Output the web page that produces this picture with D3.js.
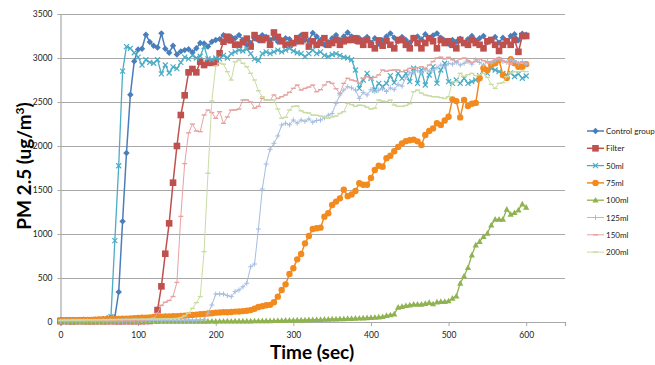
<!DOCTYPE html>
<html>
<head>
<meta charset="utf-8">
<script src="https://cdn.jsdelivr.net/npm/d3@7"></script>
<style>
  body { margin: 0; background: #fff; }
  text { font-family: Lato, "Open Sans", sans-serif; }
</style>
</head>
<body>
<svg id="chart" width="655" height="365"></svg>
<script>
// sampling times (sec)
const times = d3.range(0, 605, 5);

const seriesNames = ["Control group", "Filter", "50ml", "75ml", "100ml", "125ml", "150ml", "200ml"];

const controlGroup = [22,20,22,24,21,23,25,22,24,26, 28,35,42,48,52,341,1144,1920,2583,2962,
  3097,3105,3265,3182,3140,3120,3280,3105,3060,3140, 3040,3075,3090,3100,3065,3110,3170,3165,3130,3185, 3205,
  3215,3260,3200,3240,3225,3260,3205,3150,3170,3225, 3200,3260,3240,3205,3225,3185,3205,3225,3215,3165,
  3185,3260,3205,3200,3285,3245,3205,3150,3180,3225, 3260,3205,3245,3290,3245,3190,3225,3205,3240,3175,
  3225,3160,3200,3245,3280,3230,3190,3240,3205,3175, 3230,3245,3210,3270,3225,3255,3280,3230,3200,3160,
  3205,3185,3220,3170,3215,3250,3200,3225,3250,3180, 3205,3240,3175,3230,3190,3250,3270,3200,3275,3265];

const filter = [10,11,10,9,10,11,10,10,9,10, 11,10,10,11,10,9,10,11,10,10, 11,10,12,12, 30,
  136,405,776,1121,1583,2000,2352,2576,2837,2875,2837,2958,2920,2945,2945,2950,3053,3185,3242,
  3200,3150,3150,3180,3220,3130,3260,3225,3205,3225, 3150,3290,3240,3190,3150,3150,3170,3225,3190,3260,
  3130,3190,3150,3170,3225,3150,3170,3205,3150,3190, 3205,3205,3225,3190,3150,3205,3150,3110,3200,3140,
  3195,3150,3110,3205,3205,3150,3110,3225,3170,3110, 3170,3225,3190,3110,3205,3170,3190,3150,3110,3205,
  3170,3150,3205,3170,3150,3110,3190,3205,3150,3080, 3150,3190,3150,3205,3070,3250,3250];

const ml50 = [25,24,26,25,24,26,27,25,26,28,27,29,30, 60,
  924,1776,2850,3130,3110,3060,3010,2920,2980,2950, 2940,2980,2820,2920,2830,2900,2880,2950,3010,2990,
  3030,3000,3020,3130,2990,2980,3000,2990,3030,
  3000,3050,3070,3090,3080,3100,3050,2990,2970,3050, 3070,3050,3070,3090,3070,3090,3110,3080,3060,3050,
  3015,3050,3090,3050,3070,3030,3015,3040,3050,3030, 3010,3000,2980,2864,2655,2750,2826,2769,2636,2712,
  2674,2712,2800,2720,
  2826,2769,2826,2731,2883,2712,2864,2693,2807,2902, 2712,2864,2940,2731,2712,2750,2712,2769,2712,2731,
  2750,2800,2864,2826,2883,2864,2845,2826,2807,2830, 2790,2820,2770,2795];

const ml75 = [18,18,20,19,21,20,22,22,24,25, 28,30,32,34,35,36,38,38,40,42,
  45,48,50,52,56,58,60,62,64,66, 66,68,72,76,80,84,88,92,96,100,
  106,108,112,110,114,118,120,124,128,135, 150,170,180,190,195,224,288,364,428,545,
  610,712,773,894,977,1057,1065,1072,1197,1235, 1330,1368,1405,1503,1430,1450,1489,1576,1560,1560,
  1636,1727,1776,1765,1860,1890,1940,1990,2030,2055, 2066,2072,2053,2011,2125,2170,2200,2258,2240,2290,
  2333,2530,2510,2325,2522,2455,2480,2490,2770,2883, 2860,2920,2940,2977,2807,2773,2985,2940,2900,2900, 2930];

const ml100 = [3,4,3,2,3,4,3,3,4,3, 4,3,4,5,4,4,5,4,5,5,
  5,6,5,6,6,5,6,7,6,7, 7,6,7,8,7,8,8,7,8,9,
  8,9,9,10,9,10,10,11,10,11, 12,12,13,14,14,15,16,17,18,19,
  20,21,22,23,24,26,27,28,30,31, 33,34,35,36,38,40,42,43,45,47,
  50,52,55,60,72,80,91,167,175,185, 193,200,200,200,210,220,205,227,231,231,
  239,269,295,440,523,617,761,875,913,970, 1008,1102,1167,1167,1167,1280,1224,1242,1273,1340, 1303];

const ml125 = [10,12,11,13,12,10,12,14,13,12, 14,13,12,15,14,13,15,16,14,15,
  16,15,17,16,18,17,16,18,19,18, 20,19,21,22,20,23, 25,
  30,99,193,318,318,318,300,288,345,364,400,440,
  628,659,1057,1511,1795,1962,2030,2114,2239,2258, 2240,2295,2260,2295,2280,2307,2270,2290,2295,2320,
  2350,2370,2485,2580,2636,2674,2660,2636,2542,2610, 2580,2640,2620,2636,2650,2620,2660,2640,2700,2680,
  2780,2830,2840,2860,2830,2870,2850,2860,2890,2920, 2900,2940,2930,2950,2920,2940,2960,2930,2980,2950,
  2920,2960,2940,2970,2990,2960,2950,2980,2970,2940, 2960,2930];

const ml150 = [15,14,16,15,17,16,15,17,18,16, 18,17,19,18,20,19,21,20,22,21, 23,24,26,30,
  45,100,190,225,245,290,450,1200,1800,2150, 2250,2170,2163,2352,2409,2380,2315,2390,2258,2330,
  2409,2409,2420,2523,2523,2500,2430,2450,2542,2523, 2523,2580,2540,2560,2580,2610,2655,2693,2636,2655,
  2670,2693,2617,2640,2693,2731,2712,2650,2598,2712, 2769,2750,2740,2712,2769,2788,2760,2780,2807,2864,
  2850,2860,2864,2864,2845,2860,2883,2883,2890,2900, 2880,2920,2960,3000,3010,2990,3008,2980,2960,2990,
  3000,2970,2950,2960,2990,2970,2950,2960,2990,3000, 2970,2950,2930,2960,2940,2950,2940];

const ml200 = [20,22,21,23,22,24,23,25,24,26, 25,27,26,28,27,29,28,30,29,31,
  30,32,31,33,34,33,35,36,37,38, 40,50,70,100,155,220,288,800,1690,2511,
  2909,2940,2930,2845,2750,2958,2977,2940,2900,2826, 2750,2628,2560,2523,2523,2523,2420,2315,2326,2409,
  2450,2455,2400,2380,2375,2350,2350,2340,2330,2315, 2330,2340,2370,2390,2485,2470,2450,2465,2460,2440,
  2420,2430,2523,2510,2505,2523,2466,2450,2450,2460, 2480,2617,2636,2600,2580,2570,2560,2560,2550,2540,
  2560,2731,2731,2826,2790,2810,2826,2800,2810,2826, 2780,2700,2655,2712,2720,2788,2830,2845,2845,2850, 2845];

const seriesValues = [controlGroup, filter, ml50, ml75, ml100, ml125, ml150, ml200];

const xTicks = [0, 100, 200, 300, 400, 500, 600];
const yTicks = [0, 500, 1000, 1500, 2000, 2500, 3000, 3500];

// ---- styles (Excel 2007 palette) ----
const styles = [
  { color: "#4a7ebb", width: 1.5, marker: "diamond" },
  { color: "#c0504d", width: 1.5, marker: "square" },
  { color: "#4bacc6", width: 1.3, marker: "x" },
  { color: "#f38a1e", width: 1.5, marker: "circle" },
  { color: "#8fb350", width: 1.3, marker: "triangle" },
  { color: "#a5bde0", width: 1, marker: "plus" },
  { color: "#e5a3a1", width: 1, marker: "dash" },
  { color: "#c9dca4", width: 1, marker: "dash" }
];

const svg = d3.select("#chart");
svg.append("rect").attr("width", 655).attr("height", 365).attr("fill", "#fff");

const x = d3.scaleLinear().domain([0, 650]).range([60.5, 565]);
const y = d3.scaleLinear().domain([0, 3500]).range([322, 14]);

// gridlines
svg.append("g")
  .attr("transform", "translate(60.5,0)")
  .call(d3.axisLeft(y).tickValues(yTicks).tickSize(-(565 - 60.5)).tickFormat(""))
  .call(g => g.select(".domain").remove())
  .call(g => g.selectAll("line").attr("stroke", "#a8a8a8").attr("stroke-width", 1.2));

// y axis
const yAxis = svg.append("g")
  .attr("transform", "translate(60.5,0)")
  .call(d3.axisLeft(y).tickValues(yTicks).tickFormat(d3.format("d")).tickSize(3).tickPadding(5));
yAxis.select(".domain").attr("stroke", "#a8a8a8").attr("stroke-width", 1.2);
yAxis.selectAll("line").attr("stroke", "#a8a8a8");
yAxis.selectAll("text").attr("font-family", "Lato, sans-serif").attr("font-size", 8.5).attr("fill", "#222");

// x axis
const xAxis = svg.append("g")
  .attr("transform", "translate(0,322)")
  .call(d3.axisBottom(x).tickValues(xTicks).tickFormat(d3.format("d")).tickSize(4).tickPadding(6));
xAxis.select(".domain").attr("stroke", "#a8a8a8").attr("stroke-width", 1.2);
xAxis.selectAll("line").attr("stroke", "#a8a8a8");
xAxis.selectAll("text").attr("font-family", "Lato, sans-serif").attr("font-size", 8.5).attr("fill", "#222");

// axis titles
svg.append("text")
  .attr("x", 312).attr("y", 359)
  .attr("text-anchor", "middle")
  .style("font-size", "19px").style("font-weight", "bold")
  .text("Time (sec)");

const yTitle = svg.append("text")
  .attr("transform", "translate(31,166) rotate(-90)")
  .attr("text-anchor", "middle")
  .style("font-size", "19px").style("font-weight", "bold");
yTitle.append("tspan").text("PM 2.5 (ug/m");
yTitle.append("tspan").attr("dy", -7).style("font-size", "12px").text("3");
yTitle.append("tspan").attr("dy", 7).text(")");

// markers
function drawMarker(g, type, color, cx, cy) {
  const m = g.append("g").attr("transform", `translate(${cx},${cy})`);
  if (type === "diamond") {
    m.append("path").attr("d", "M0,-3.2L3.2,0L0,3.2L-3.2,0Z").attr("fill", color);
  } else if (type === "square") {
    m.append("rect").attr("x", -3.3).attr("y", -3.3).attr("width", 6.6).attr("height", 6.6).attr("fill", color);
  } else if (type === "x") {
    m.append("path").attr("d", "M-2.5,-2.5L2.5,2.5M-2.5,2.5L2.5,-2.5").attr("stroke", color).attr("stroke-width", 1.2);
  } else if (type === "circle") {
    m.append("circle").attr("r", 3.2).attr("fill", color);
  } else if (type === "triangle") {
    m.append("path").attr("d", "M0,-3.3L3.1,2.4L-3.1,2.4Z").attr("fill", color);
  } else if (type === "plus") {
    m.append("path").attr("d", "M-2.5,0H2.5M0,-2.5V2.5").attr("stroke", color).attr("stroke-width", 1);
  } else if (type === "dash") {
    m.append("path").attr("d", "M-2.5,0H2.5").attr("stroke", color).attr("stroke-width", 1.4);
  }
}

const line = d3.line()
  .x(d => x(d[0]))
  .y(d => y(d[1]));

const plot = svg.append("g");
seriesNames.forEach((name, i) => {
  const st = styles[i];
  const pts = seriesValues[i].map((v, j) => [times[j], v]);
  const g = plot.append("g");
  g.append("path")
    .datum(pts)
    .attr("d", line)
    .attr("fill", "none")
    .attr("stroke", st.color)
    .attr("stroke-width", st.width)
    .attr("stroke-linejoin", "round");
  pts.forEach(p => drawMarker(g, st.marker, st.color, x(p[0]), y(p[1])));
});

// legend
const legend = svg.append("g").attr("transform", "translate(587,131)");
seriesNames.forEach((name, i) => {
  const st = styles[i];
  const row = legend.append("g").attr("transform", `translate(0,${i * 17.3})`);
  row.append("line").attr("x1", 0).attr("x2", 17).attr("y1", 0).attr("y2", 0)
    .attr("stroke", st.color).attr("stroke-width", st.width);
  drawMarker(row, st.marker, st.color, 8.5, 0);
  row.append("text").attr("x", 19).attr("y", 3)
    .style("font-size", "8px").attr("fill", "#222")
    .text(name);
});
</script>
</body>
</html>
